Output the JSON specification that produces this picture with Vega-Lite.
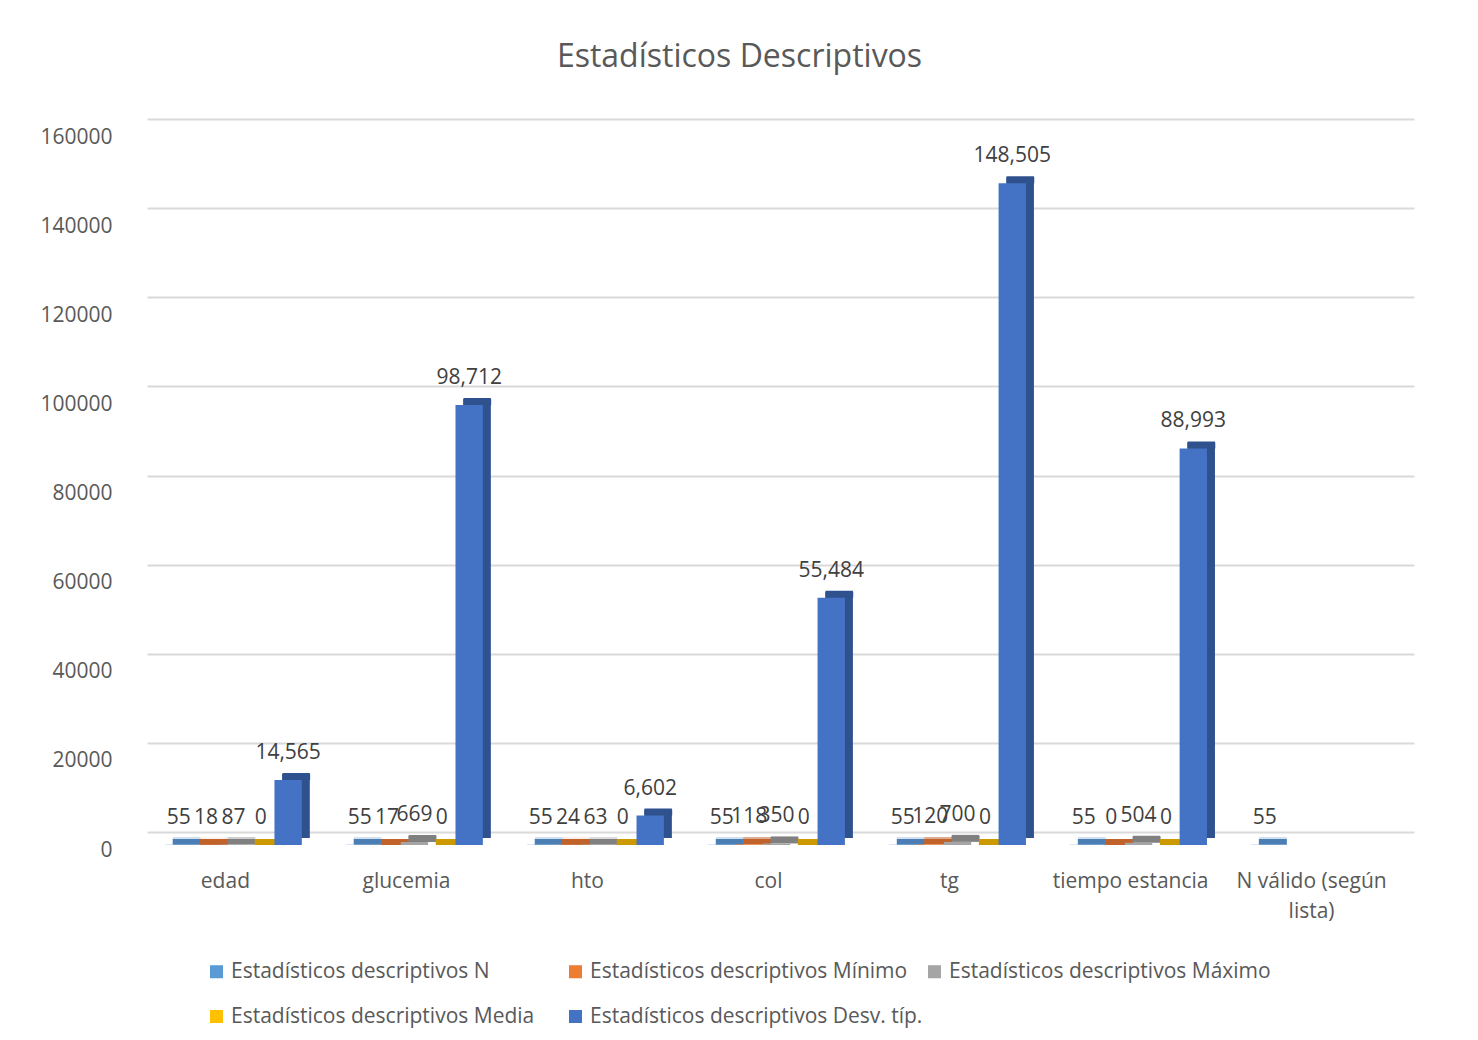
{
  "$schema": "https://vega.github.io/schema/vega-lite/v6.json",
  "width": 1267,
  "height": 713,
  "autosize": {"type": "none"},
  "padding": {"left": 147, "top": 132, "right": 64, "bottom": 195},
  "background": "white",
  "config": {"font": "Open Sans", "view": {"stroke": null}},
  "title": {"text": "Estadísticos Descriptivos", "fontSize": 32, "font": "Open Sans", "fontWeight": "normal", "color": "#595959", "offset": 52, "dx": -41},
  "data": {"values": [
    {"cat": "edad", "serie": "Estadísticos descriptivos N", "value": 55},
    {"cat": "edad", "serie": "Estadísticos descriptivos Mínimo", "value": 18},
    {"cat": "edad", "serie": "Estadísticos descriptivos Máximo", "value": 87},
    {"cat": "edad", "serie": "Estadísticos descriptivos Media", "value": 0},
    {"cat": "edad", "serie": "Estadísticos descriptivos Desv. típ.", "value": 14565},
    {"cat": "glucemia", "serie": "Estadísticos descriptivos N", "value": 55},
    {"cat": "glucemia", "serie": "Estadísticos descriptivos Mínimo", "value": 17},
    {"cat": "glucemia", "serie": "Estadísticos descriptivos Máximo", "value": 669},
    {"cat": "glucemia", "serie": "Estadísticos descriptivos Media", "value": 0},
    {"cat": "glucemia", "serie": "Estadísticos descriptivos Desv. típ.", "value": 98712},
    {"cat": "hto", "serie": "Estadísticos descriptivos N", "value": 55},
    {"cat": "hto", "serie": "Estadísticos descriptivos Mínimo", "value": 24},
    {"cat": "hto", "serie": "Estadísticos descriptivos Máximo", "value": 63},
    {"cat": "hto", "serie": "Estadísticos descriptivos Media", "value": 0},
    {"cat": "hto", "serie": "Estadísticos descriptivos Desv. típ.", "value": 6602},
    {"cat": "col", "serie": "Estadísticos descriptivos N", "value": 55},
    {"cat": "col", "serie": "Estadísticos descriptivos Mínimo", "value": 118},
    {"cat": "col", "serie": "Estadísticos descriptivos Máximo", "value": 350},
    {"cat": "col", "serie": "Estadísticos descriptivos Media", "value": 0},
    {"cat": "col", "serie": "Estadísticos descriptivos Desv. típ.", "value": 55484},
    {"cat": "tg", "serie": "Estadísticos descriptivos N", "value": 55},
    {"cat": "tg", "serie": "Estadísticos descriptivos Mínimo", "value": 120},
    {"cat": "tg", "serie": "Estadísticos descriptivos Máximo", "value": 700},
    {"cat": "tg", "serie": "Estadísticos descriptivos Media", "value": 0},
    {"cat": "tg", "serie": "Estadísticos descriptivos Desv. típ.", "value": 148505},
    {"cat": "tiempo estancia", "serie": "Estadísticos descriptivos N", "value": 55},
    {"cat": "tiempo estancia", "serie": "Estadísticos descriptivos Mínimo", "value": 0},
    {"cat": "tiempo estancia", "serie": "Estadísticos descriptivos Máximo", "value": 504},
    {"cat": "tiempo estancia", "serie": "Estadísticos descriptivos Media", "value": 0},
    {"cat": "tiempo estancia", "serie": "Estadísticos descriptivos Desv. típ.", "value": 88993},
    {"cat": "N válido (según lista)", "serie": "Estadísticos descriptivos N", "value": 55}
  ]},
  "encoding": {
    "x": {
      "field": "cat", "type": "nominal",
      "sort": ["edad", "glucemia", "hto", "col", "tg", "tiempo estancia", "N válido (según lista)"],
      "scale": {"paddingInner": 0.2, "paddingOuter": 0.0994},
      "axis": {"title": null, "labelAngle": 0, "domain": false, "ticks": false, "grid": false, "labelPadding": 25, "labelOffset": -12, "labelFontSize": 21, "labelColor": "#595959", "labelLineHeight": 30, "labelLimit": 300,
        "labelExpr": "datum.label == 'N válido (según lista)' ? ['N válido (según', 'lista)'] : datum.label"}
    },
    "y": {
      "field": "value", "type": "quantitative",
      "scale": {"domain": [0, 160000]},
      "axis": {"title": null, "values": [0, 20000, 40000, 60000, 80000, 100000, 120000, 140000, 160000], "format": "d", "labelFontSize": 21, "labelColor": "#595959", "domain": false, "ticks": false, "labelPadding": 35, "tickOffset": -13, "labelOffset": 18, "gridColor": "#d9d9d9", "gridWidth": 2}
    }
  },
  "layer": [
    {
      "encoding": {
        "xOffset": {"field": "serie", "type": "nominal", "scale": {"domain": ["Estadísticos descriptivos N", "Estadísticos descriptivos Mínimo", "Estadísticos descriptivos Máximo", "Estadísticos descriptivos Media", "Estadísticos descriptivos Desv. típ."], "paddingInner": 0, "paddingOuter": 0.146, "align": 1}},
        "color": {"field": "serie", "type": "nominal", "legend": null,
          "scale": {"domain": ["Estadísticos descriptivos N", "Estadísticos descriptivos Mínimo", "Estadísticos descriptivos Máximo", "Estadísticos descriptivos Media", "Estadísticos descriptivos Desv. típ."],
                    "range": ["#4A7EB5", "#C0622A", "#808080", "#CC9A00", "#2F528F"]}}
      },
      "layer": [
        {"mark": {"type": "bar", "yOffset": -7}},
        {"mark": {"type": "tick", "orient": "horizontal", "size": 28, "thickness": 6, "yOffset": -3, "opacity": 1}}
      ]
    },
    {
      "encoding": {
        "xOffset": {"field": "serie", "type": "nominal", "scale": {"domain": ["Estadísticos descriptivos N", "Estadísticos descriptivos Mínimo", "Estadísticos descriptivos Máximo", "Estadísticos descriptivos Media", "Estadísticos descriptivos Desv. típ."], "paddingInner": 0, "paddingOuter": 0.146, "align": 0}}
      },
      "layer": [
        {
          "mark": {"type": "bar"},
          "encoding": {
            "color": {"field": "serie", "type": "nominal",
            "scale": {"domain": ["Estadísticos descriptivos N", "Estadísticos descriptivos Mínimo", "Estadísticos descriptivos Máximo", "Estadísticos descriptivos Media", "Estadísticos descriptivos Desv. típ."],
                      "range": ["#5B9BD5", "#ED7D31", "#A5A5A5", "#FFC000", "#4472C4"]},
            "legend": {"title": null, "orient": "none", "legendX": 59, "legendY": 829, "direction": "horizontal", "columns": 3, "gridAlign": "all", "symbolType": "square", "symbolSize": 170, "symbolStrokeWidth": 0, "labelFontSize": 21, "labelColor": "#595959", "columnPadding": 1, "rowPadding": 23, "labelLimit": 400, "labelOffset": 4}}}
        },
        {
          "mark": {"type": "text", "baseline": "bottom", "dy": -17, "fontSize": 21, "color": "#404040"},
          "encoding": {"text": {"field": "value", "type": "quantitative", "format": ",d"}}
        }
      ]
    }
  ],
  "resolve": {"scale": {"color": "independent", "xOffset": "independent"}}
}
